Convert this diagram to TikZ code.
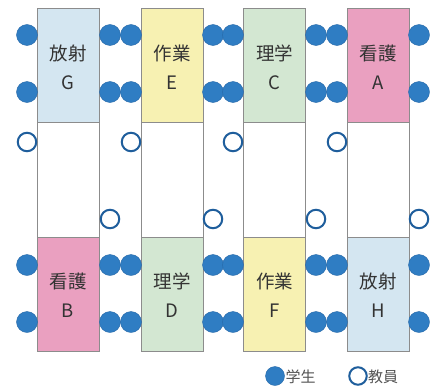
\documentclass[tikz,border=0pt]{standalone}
\usepackage{fontspec}
\newfontfamily\jpfont{Noto Sans CJK JP}
\setmainfont{Liberation Sans}
\definecolor{dotblue}{HTML}{2F7DC3}
\definecolor{dotedge}{HTML}{2768A8}
\definecolor{ringblue}{HTML}{1F5E9C}
\definecolor{boxline}{HTML}{8C8C8C}
\definecolor{cblue}{HTML}{D4E6F1}
\definecolor{cyellow}{HTML}{F7F1B2}
\definecolor{cgreen}{HTML}{D3E7D2}
\definecolor{cpink}{HTML}{EAA0C0}
\definecolor{txt}{HTML}{333333}
\tikzset{
  colbox/.style={draw=boxline, line width=1pt, fill=white, minimum width=62pt, minimum height=343pt, inner sep=0pt},
  wardbox/.style={draw=boxline, line width=1pt, minimum width=62pt, minimum height=114pt, inner sep=0pt},
  wardtext/.style={text=txt, align=center, font=\jpfont\fontsize{18.5}{29}\selectfont, inner sep=0pt},
  student/.style={circle, fill=dotblue, draw=dotedge, line width=0.4pt, minimum size=21pt, inner sep=0pt},
  teacher/.style={circle, fill=white, draw=ringblue, line width=2pt, minimum size=18.5pt, inner sep=0pt},
  legstudent/.style={circle, fill=dotblue, draw=dotedge, line width=0.4pt, minimum size=19pt, inner sep=0pt},
  legteacher/.style={circle, fill=white, draw=ringblue, line width=2pt, minimum size=17.5pt, inner sep=0pt},
  legtext/.style={text=txt!85, font=\jpfont\fontsize{15}{16}\selectfont, inner sep=0pt, anchor=west}
}
\begin{document}
\begin{tikzpicture}[x=1pt,y=-1pt]
\useasboundingbox (0,0) rectangle (441,391);
% columns
\foreach \i/\cx in {1/68,2/172,3/274.5,4/378}{
  \node[colbox] (col\i) at (\cx,179.5) {};
}
% top wards
\node[wardbox, fill=cblue]   (G) at (68,65)  {};
\node[wardbox, fill=cyellow] (E) at (172,65) {};
\node[wardbox, fill=cgreen]  (C) at (274.5,65) {};
\node[wardbox, fill=cpink]   (A) at (378,65) {};
% bottom wards
\node[wardbox, fill=cpink]   (B) at (68,294)  {};
\node[wardbox, fill=cgreen]  (D) at (172,294) {};
\node[wardbox, fill=cyellow] (F) at (274.5,294) {};
\node[wardbox, fill=cblue]   (H) at (378,294) {};
% labels
\node[wardtext] (tG) at (68,67) {放射\\G};
\node[wardtext] (tE) at (172,67) {作業\\E};
\node[wardtext] (tC) at (274.5,67) {理学\\C};
\node[wardtext] (tA) at (378,67) {看護\\A};
\node[wardtext] (tB) at (68,295) {看護\\B};
\node[wardtext] (tD) at (172,295) {理学\\D};
\node[wardtext] (tF) at (274.5,295) {作業\\F};
\node[wardtext] (tH) at (378,295) {放射\\H};
% students
\foreach \x [count=\k] in {27,110,131,213,233,316,337,419}{
  \foreach \y [count=\r] in {35,92,265,322}{
    \node[student] (s\k\r) at (\x,\y) {};
  }
}
% teachers
\foreach \x [count=\k] in {27,131,233,337}{
  \node[teacher] (tu\k) at (\x,142) {};
}
\foreach \x [count=\k] in {110,213,316,419}{
  \node[teacher] (tl\k) at (\x,219) {};
}
% legend
\node[legstudent] (ls) at (275,376) {};
\node[legtext] (lst) at (285.5,376.5) {学生};
\node[legteacher] (lt) at (358,376) {};
\node[legtext] (ltt) at (368,376.5) {教員};
\end{tikzpicture}
\end{document}
